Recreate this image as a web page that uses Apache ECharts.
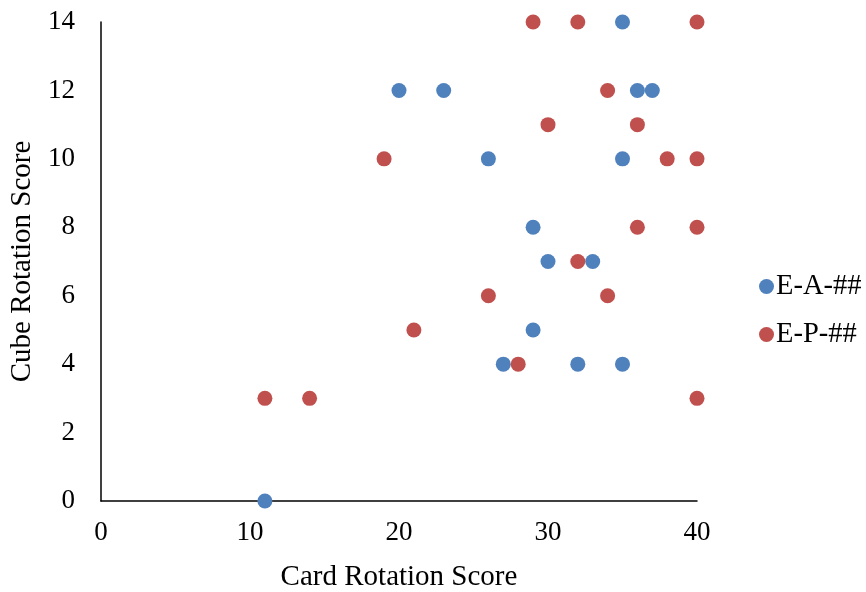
<!DOCTYPE html>
<html>
<head>
<meta charset="utf-8">
<script src="https://cdn.jsdelivr.net/npm/echarts@6/dist/echarts.min.js"></script>
<style>
  html, body { margin: 0; padding: 0; background: #fff; }
  #chart { width: 866px; height: 592px; }
</style>
</head>
<body>
<div id="chart"></div>
<script>
// Card rotation score (x) vs cube rotation score (y)
const seriesNames = ['E-A-##', 'E-P-##'];
const eaCard = [11, 20, 23, 35, 36, 37, 26, 35, 29, 30, 33, 29, 27, 32, 35];
const eaCube = [0, 12, 12, 14, 12, 12, 10, 10, 8, 7, 7, 5, 4, 4, 4];
const epCard = [29, 32, 40, 34, 30, 36, 19, 38, 40, 36, 40, 32, 26, 34, 21, 28, 11, 14, 40];
const epCube = [14, 14, 14, 12, 11, 11, 10, 10, 10, 8, 8, 7, 6, 6, 5, 4, 3, 3, 3];
const xTicks = [0, 10, 20, 30, 40];
const yTicks = [0, 2, 4, 6, 8, 10, 12, 14];

const pairs = (xs, ys) => xs.map((x, i) => [x, ys[i]]);
const font = 'Liberation Serif, Times New Roman, serif';

const chart = echarts.init(document.getElementById('chart'));
chart.setOption({
  animation: false,
  textStyle: { fontFamily: font },
  grid: { left: 101, right: 169, top: 22, bottom: 91, containLabel: false, outerBoundsMode: 'none' },
  legend: {
    orient: 'vertical',
    left: 754,
    top: 267,
    itemGap: 19,
    itemWidth: 15,
    itemHeight: 15,
    icon: 'circle',
    textStyle: { fontFamily: font, fontSize: 28.5, color: '#000', padding: [0, 0, 0, -3] },
    data: seriesNames
  },
  xAxis: {
    type: 'value',
    min: xTicks[0],
    max: xTicks[xTicks.length - 1],
    interval: 10,
    name: 'Card Rotation Score',
    nameLocation: 'middle',
    nameGap: 62,
    nameTextStyle: { fontFamily: font, fontSize: 29, color: '#000' },
    axisLine: { show: true, lineStyle: { color: '#000', width: 1.5 } },
    axisTick: { show: false },
    splitLine: { show: false },
    axisLabel: { fontFamily: font, fontSize: 27, color: '#000', margin: 18 }
  },
  yAxis: {
    type: 'value',
    min: yTicks[0],
    max: yTicks[yTicks.length - 1],
    interval: 2,
    name: 'Cube Rotation Score',
    nameLocation: 'middle',
    nameGap: 62,
    nameTextStyle: { fontFamily: font, fontSize: 29, color: '#000' },
    axisLine: { show: true, lineStyle: { color: '#000', width: 1.5 } },
    axisTick: { show: false },
    splitLine: { show: false },
    axisLabel: { fontFamily: font, fontSize: 27, color: '#000', margin: 26 }
  },
  series: [
    {
      name: seriesNames[0],
      type: 'scatter',
      symbol: 'circle',
      symbolSize: 15,
      itemStyle: { color: '#4F81BD', opacity: 1 },
      data: pairs(eaCard, eaCube),
      z: 2
    },
    {
      name: seriesNames[1],
      type: 'scatter',
      symbol: 'circle',
      symbolSize: 15,
      itemStyle: { color: '#C0504D', opacity: 1 },
      data: pairs(epCard, epCube),
      z: 3
    }
  ]
});
</script>
</body>
</html>
